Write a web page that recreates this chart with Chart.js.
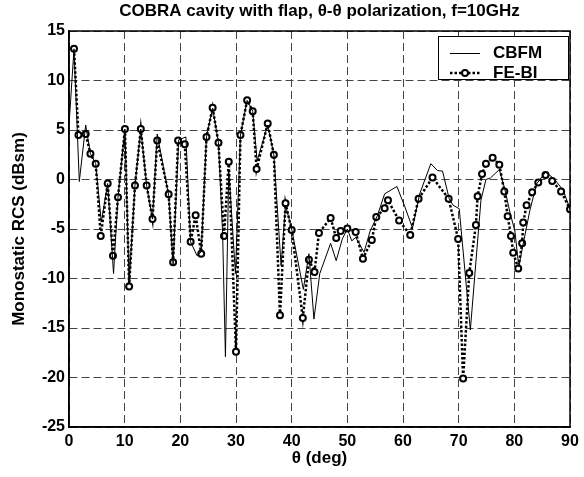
<!DOCTYPE html>
<html>
<head>
<meta charset="utf-8">
<script src="https://cdn.jsdelivr.net/npm/chart.js@4.4.0/dist/chart.umd.min.js"></script>
<style>
  html, body { margin: 0; padding: 0; background: #fff; }
  #rcsChart { display: block; }
</style>
</head>
<body>
<canvas id="rcsChart" width="584" height="477"></canvas>
<script>
// Angles (deg) and monostatic RCS (dBsm)
const thetaCBFM = [0, 0.9, 1.85, 3.0, 3.85, 4.8, 5.8, 6.95, 8.0, 8.8, 10.05, 10.8, 11.85, 12.9, 13.95, 15.0, 15.85,
    17.9, 18.7, 19.7, 21.0, 21.85, 23.0, 23.75, 24.7, 25.8, 26.85, 27.6, 28.1, 28.7, 29.9, 30.8, 32.0, 33.0,
    33.8, 35.7, 36.8, 38.1, 38.9, 40.0, 42.1, 43.1, 44.0, 45.05, 47.0, 48.0, 49.1, 50.0, 50.8, 51.5, 53.0,
    54.1, 55.4, 56.7, 58.9, 60.3, 61.7, 63.0, 65.0, 66.2, 67.1, 68.3, 69.0, 70.1, 72.1, 74.0, 74.9, 75.7,
    77.3, 78.3, 79.2, 80.1, 80.8, 81.7, 82.8, 84.0, 85.6, 87.1, 88.8, 90.0];
const rcsCBFM = [5.5, 13.2, -0.2, 5.5, 2.6, 1.6, -4.3, -0.4, -9.5, -1.8, 5.1, -10.5, -0.6, 5.1, -0.6, -4.0, 4.6,
    -1.6, -8.6, 4.0, 4.3, -6.3, -7.7, -7.3, 4.3, 7.2, 3.7, -5.5, -17.9, 1.0, -9.5, 4.5, 8.0, 6.9,
    1.9, 5.5, 2.5, -8.7, -2.6, -5.0, -11.1, -7.5, -14.1, -9.5, -6.45, -8.2, -6.0, -5.0, -6.2, -5.85, -7.35,
    -5.2, -3.65, -1.45, -0.7, -2.7, -4.9, -1.45, 1.6, 0.9, 0.85, -1.95, -2.6, -2.95, -15.2, -2.1, 0.0, 0.15,
    1.0, -1.0, -3.3, -5.2, -8.8, -6.2, -3.1, -0.45, 0.75, 0.1, -1.1, -3.0];

const thetaFEBI = [0.9, 1.7, 3.0, 3.85, 4.8, 5.7, 6.95, 7.9, 8.8, 10.05, 10.8, 11.85, 12.9, 13.95, 15.0, 15.85,
    17.9, 18.7, 19.6, 20.8, 21.85, 22.75, 23.75, 24.7, 25.8, 26.85, 27.85, 28.7, 30.0, 30.8, 32.0, 33.0,
    33.7, 35.7, 36.8, 37.9, 38.9, 40.0, 42.0, 43.1, 44.1, 44.9, 47.0, 48.0, 48.8, 50.0, 51.5, 52.8, 54.4,
    55.2, 56.7, 57.3, 59.3, 61.3, 62.8, 65.3, 68.2, 69.9, 70.8, 71.9, 73.1, 73.4, 74.2, 74.9, 76.1, 77.3,
    78.2, 78.8, 79.4, 79.8, 80.7, 81.4, 81.6, 82.2, 83.2, 84.3, 85.6, 86.8, 88.4, 90.0];
const rcsFEBI = [13.2, 4.5, 4.6, 2.6, 1.6, -5.7, -0.4, -7.7, -1.8, 5.1, -10.8, -0.6, 5.1, -0.6, -4.0, 3.95,
    -1.5, -8.35, 3.95, 3.55, -6.3, -3.6, -7.5, 4.3, 7.25, 3.7, -5.7, 1.8, -17.4, 4.5, 8.0, 6.9,
    1.05, 5.65, 2.5, -13.7, -2.4, -5.1, -14.0, -8.1, -9.35, -5.4, -3.9, -5.9, -5.2, -4.95, -5.3, -8.0, -6.1,
    -3.8, -2.9, -2.1, -4.15, -5.6, -1.95, 0.2, -1.95, -6.0, -20.1, -9.45, -4.6, -1.7, 0.55, 1.6, 2.2, 1.5,
    -1.2, -3.7, -5.7, -7.4, -9.0, -6.45, -4.35, -2.6, -1.3, -0.3, 0.45, -0.15, -1.2, -3.0];

const xTicks = [0, 10, 20, 30, 40, 50, 60, 70, 80, 90];
const yTicks = [-25, -20, -15, -10, -5, 0, 5, 10, 15];

const seriesNames = ['CBFM', 'FE-BI'];
const chartTitle = 'COBRA cavity with flap, \u03B8-\u03B8 polarization, f=10GHz';
const xLabel = '\u03B8 (deg)';
const yLabel = 'Monostatic RCS (dBsm)';

const FONT = "'Liberation Sans', Arial, Helvetica, sans-serif";
const FEBI_DASH = [2.5, 2];

function toPoints(xs, ys) {
    return xs.map((x, i) => ({ x: x, y: ys[i] }));
}

// Box around the axes + legend in the upper right corner
const framePlugin = {
    id: 'frame',
    afterDatasetsDraw(chart) {
        const ctx = chart.ctx;
        const a = chart.chartArea;
        ctx.save();
        ctx.strokeStyle = '#000';
        ctx.lineWidth = 1.5;
        ctx.setLineDash([]);
        ctx.strokeRect(a.left, a.top, a.right - a.left, a.bottom - a.top);

        // legend
        const bx = a.right - 132, by = a.top + 5, bw = 130, bh = 43;
        ctx.fillStyle = '#fff';
        ctx.fillRect(bx, by, bw, bh);
        ctx.lineWidth = 1;
        ctx.strokeRect(bx + 0.5, by + 0.5, bw, bh);

        const row1 = by + 17.5, row2 = by + 37;
        const lx0 = bx + 12, lx1 = bx + 42;

        ctx.beginPath();
        ctx.moveTo(lx0, row1);
        ctx.lineTo(lx1, row1);
        ctx.lineWidth = 1;
        ctx.stroke();

        ctx.beginPath();
        ctx.setLineDash(FEBI_DASH);
        ctx.moveTo(lx0, row2);
        ctx.lineTo(lx1, row2);
        ctx.lineWidth = 2.5;
        ctx.stroke();
        ctx.setLineDash([]);
        ctx.beginPath();
        ctx.arc((lx0 + lx1) / 2, row2, 3, 0, Math.PI * 2);
        ctx.fillStyle = '#fff';
        ctx.fill();
        ctx.lineWidth = 2;
        ctx.stroke();

        ctx.fillStyle = '#000';
        ctx.font = 'bold 17px ' + FONT;
        ctx.textBaseline = 'middle';
        ctx.textAlign = 'left';
        ctx.fillText(seriesNames[0], bx + 55, row1);
        ctx.fillText(seriesNames[1], bx + 55, row2);
        ctx.restore();
    }
};

const ctx = document.getElementById('rcsChart').getContext('2d');
const rcsChart = new Chart(ctx, {
    type: 'line',
    data: {
        datasets: [
            {
                label: seriesNames[0],
                data: toPoints(thetaCBFM, rcsCBFM),
                borderColor: '#000',
                borderWidth: 1,
                pointRadius: 0,
                tension: 0
            },
            {
                label: seriesNames[1],
                data: toPoints(thetaFEBI, rcsFEBI),
                borderColor: '#000',
                borderWidth: 2.5,
                borderDash: FEBI_DASH,
                pointRadius: 3,
                pointBorderWidth: 2,
                pointBorderColor: '#000',
                pointBackgroundColor: '#fff',
                tension: 0
            }
        ]
    },
    options: {
        responsive: false,
        animation: false,
        layout: { padding: { left: 0, right: 14, top: 0, bottom: 0 } },
        plugins: {
            legend: { display: false },
            tooltip: { enabled: false },
            title: {
                display: true,
                text: chartTitle,
                fullSize: false,
                color: '#000',
                font: { family: FONT, size: 17, weight: 'bold' },
                padding: { top: 1, bottom: 9.6 }
            }
        },
        scales: {
            x: {
                type: 'linear',
                min: 0,
                max: 90,
                afterBuildTicks: s => { s.ticks = xTicks.map(v => ({ value: v })); },
                afterFit: s => { s.height = 50; },
                ticks: {
                    color: '#000',
                    padding: 5,
                    maxRotation: 0,
                    font: { family: FONT, size: 16, weight: 'bold' }
                },
                grid: {
                    color: '#444',
                    lineWidth: 1,
                    drawTicks: false
                },
                border: { display: true, color: '#000', width: 1.5, dash: [8, 4] },
                title: {
                    display: true,
                    text: xLabel,
                    color: '#000',
                    font: { family: FONT, size: 17, weight: 'bold' },
                    padding: { top: 0, bottom: 8.8 }
                }
            },
            y: {
                min: -25,
                max: 15,
                afterBuildTicks: s => { s.ticks = yTicks.map(v => ({ value: v })); },
                afterFit: s => { s.width = 69; },
                ticks: {
                    color: '#000',
                    padding: 4,
                    font: { family: FONT, size: 16, weight: 'bold' }
                },
                grid: {
                    color: '#444',
                    lineWidth: 1,
                    drawTicks: false
                },
                border: { display: true, color: '#000', width: 1.5, dash: [8, 4] },
                title: {
                    display: true,
                    text: yLabel,
                    color: '#000',
                    font: { family: FONT, size: 17, weight: 'bold' },
                    padding: { top: 9, bottom: 0 }
                }
            }
        }
    },
    plugins: [framePlugin]
});
</script>
</body>
</html>
